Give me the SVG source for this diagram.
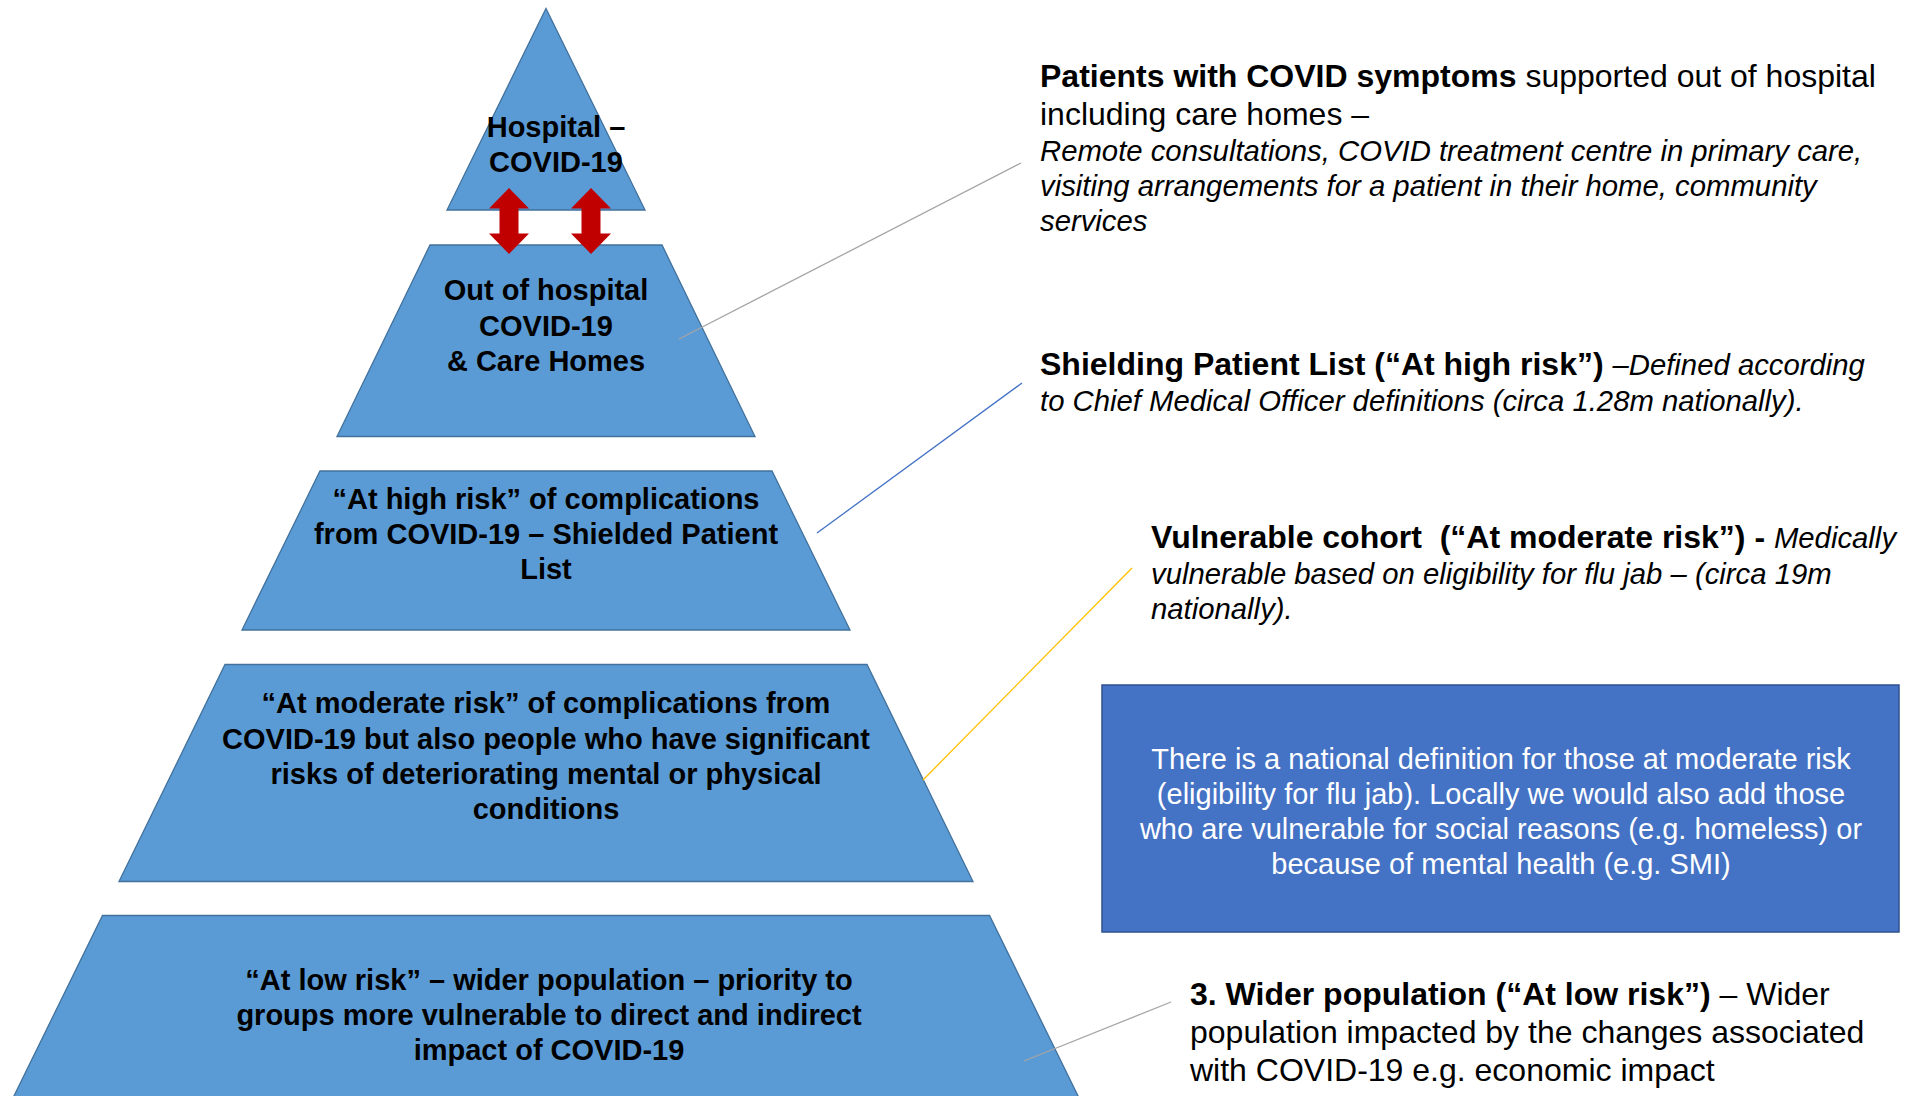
<svg xmlns="http://www.w3.org/2000/svg" width="1912" height="1096" viewBox="0 0 1912 1096">
<style>
.band{fill:#5B9BD5;stroke:#41719C;stroke-width:1.3}
.bt{font-family:"Liberation Sans",Arial,sans-serif;font-weight:bold;font-size:29px;fill:#000;text-anchor:middle}
.rt{font-family:"Liberation Sans",Arial,sans-serif;fill:#000}
.b32{font-size:32px}
.i29{font-size:29.3px;font-style:italic}
.wt{font-family:"Liberation Sans",Arial,sans-serif;font-size:29px;fill:#fff;text-anchor:middle}
.arr{fill:#C00000}
</style>
<rect width="1912" height="1096" fill="#fff"/>
<g id="band1">
<polygon class="band" points="546,8.5 645,210 447,210"/>
<text class="bt" x="556" y="137">Hospital –</text>
<text class="bt" x="556" y="172">COVID-19</text>
</g>
<g id="band2">
<polygon class="band" points="430,245 662,245 755,436.5 337,436.5"/>
<text class="bt" x="546" y="300">Out of hospital</text>
<text class="bt" x="546" y="336">COVID-19</text>
<text class="bt" x="546" y="371">&amp; Care Homes</text>
</g>
<g id="band3">
<polygon class="band" points="320,471 772,471 850,630 242,630"/>
<text class="bt" x="546" y="509">“At high risk” of complications</text>
<text class="bt" x="546" y="544">from COVID-19 – Shielded Patient</text>
<text class="bt" x="546" y="579">List</text>
</g>
<g id="band4">
<polygon class="band" points="225,664.5 867,664.5 973,881.5 119,881.5"/>
<text class="bt" x="546" y="713">“At moderate risk” of complications from</text>
<text class="bt" x="546" y="749">COVID-19 but also people who have significant</text>
<text class="bt" x="546" y="784">risks of deteriorating mental or physical</text>
<text class="bt" x="546" y="819">conditions</text>
</g>
<g id="band5">
<polygon class="band" points="102.5,915.5 989.5,915.5 1081,1102 11,1102"/>
<text class="bt" x="549" y="990">“At low risk” – wider population – priority to</text>
<text class="bt" x="549" y="1025">groups more vulnerable to direct and indirect</text>
<text class="bt" x="549" y="1060">impact of COVID-19</text>
</g>
<g id="arrows">
<polygon class="arr" points="509,188 529,208.5 518.5,208.5 518.5,233.5 529,233.5 509,254 489,233.5 499.5,233.5 499.5,208.5 489,208.5"/>
<polygon class="arr" points="591,188 611,208.5 600.5,208.5 600.5,233.5 611,233.5 591,254 571,233.5 581.5,233.5 581.5,208.5 571,208.5"/>
</g>
<g id="connectors" fill="none" stroke-width="1.3">
<line x1="679" y1="339" x2="1021" y2="163" stroke="#A5A5A5"/>
<line x1="817" y1="533" x2="1022" y2="383" stroke="#4472C4"/>
<line x1="923" y1="780" x2="1132" y2="568" stroke="#FFC000"/>
<line x1="1024" y1="1061" x2="1171" y2="1002" stroke="#A5A5A5"/>
</g>
<g id="note1">
<text class="rt b32" x="1040" y="86.5"><tspan font-weight="bold">Patients with COVID symptoms</tspan> supported out of hospital</text>
<text class="rt b32" x="1040" y="124.5">including care homes –</text>
<text class="rt i29" x="1040" y="160.5">Remote consultations, COVID treatment centre in primary care,</text>
<text class="rt i29" x="1040" y="195.5">visiting arrangements for a patient in their home, community</text>
<text class="rt i29" x="1040" y="230.5">services</text>
</g>
<g id="note2">
<text class="rt" x="1040" y="374.5"><tspan class="b32" font-weight="bold">Shielding Patient List (“At high risk”) </tspan><tspan class="i29">–Defined according</tspan></text>
<text class="rt i29" x="1040" y="410.5">to Chief Medical Officer definitions (circa 1.28m nationally).</text>
</g>
<g id="note3">
<text class="rt" x="1151" y="547.5" xml:space="preserve"><tspan class="b32" font-weight="bold">Vulnerable cohort  (“At moderate risk”) - </tspan><tspan class="i29">Medically</tspan></text>
<text class="rt i29" x="1151" y="583.5">vulnerable based on eligibility for flu jab – (circa 19m</text>
<text class="rt i29" x="1151" y="618.5">nationally).</text>
</g>
<g id="note4">
<rect x="1102" y="685" width="797" height="247" fill="#4472C4" stroke="#2F528F" stroke-width="1.5"/>
<text class="wt" x="1501" y="769">There is a national definition for those at moderate risk</text>
<text class="wt" x="1501" y="804">(eligibility for flu jab). Locally we would also add those</text>
<text class="wt" x="1501" y="839">who are vulnerable for social reasons (e.g. homeless) or</text>
<text class="wt" x="1501" y="874">because of mental health (e.g. SMI)</text>
</g>
<g id="note5">
<text class="rt b32" x="1190" y="1005"><tspan font-weight="bold">3. Wider population (“At low risk”)</tspan> – Wider</text>
<text class="rt b32" x="1190" y="1043">population impacted by the changes associated</text>
<text class="rt b32" x="1190" y="1081">with COVID-19 e.g. economic impact</text>
</g>
</svg>
